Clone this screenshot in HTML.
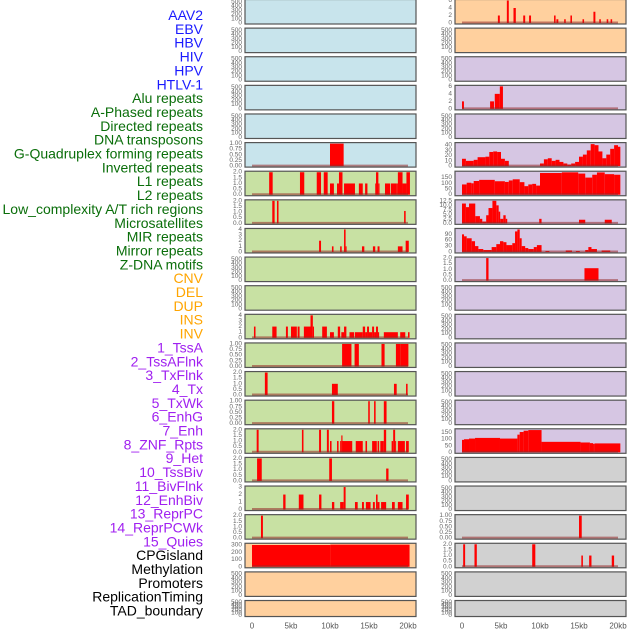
<!DOCTYPE html>
<html><head><meta charset="utf-8"><style>
html,body{margin:0;padding:0;background:#fff;}
svg{display:block;font-family:"Liberation Sans",sans-serif;}
</style></head><body>
<svg id="chart" width="630" height="630" viewBox="0 0 630 630" xmlns="http://www.w3.org/2000/svg"></svg>
<script>
const trackLabels = ["AAV2","EBV","HBV","HIV","HPV","HTLV-1","Alu repeats","A-Phased repeats","Directed repeats","DNA transposons","G-Quadruplex forming repeats","Inverted repeats","L1 repeats","L2 repeats","Low_complexity A/T rich regions","Microsatellites","MIR repeats","Mirror repeats","Z-DNA motifs","CNV","DEL","DUP","INS","INV","1_TssA","2_TssAFlnk","3_TxFlnk","4_Tx","5_TxWk","6_EnhG","7_Enh","8_ZNF_Rpts","9_Het","10_TssBiv","11_BivFlnk","12_EnhBiv","13_ReprPC","14_ReprPCWk","15_Quies","CPGisland","Methylation","Promoters","ReplicationTiming","TAD_boundary"];
const labelGroups = ["v","v","v","v","v","v","r","r","r","r","r","r","r","r","r","r","r","r","r","s","s","s","s","s","c","c","c","c","c","c","c","c","c","c","c","c","c","c","c","k","k","k","k","k"];
const xTickValues = [0,5,10,15,20];
const xTickLabels = ["0","5kb","10kb","15kb","20kb"];

// bars: [startKb, endKb, value]
const gquadBars = [[10.0,11.75,1]];
const l1LeftBars = [[2.2,2.65,2],[6.15,6.7,2],[8.3,8.85,2],[9.2,9.7,2],[10,10.5,1],[10.9,11.15,1],[11.15,11.6,2],[11.8,13.2,1],[13.7,14.2,1],[14.5,14.8,1],[15.8,15.9,1],[15.9,16.2,2],[16.2,16.35,1],[17.05,17.7,1],[17.8,18.55,1],[18.55,18.7,1],[18.7,19.3,2],[19.3,19.8,1],[19.8,20.25,2]];
const row7Bars = [[2.6,2.9,2],[3.2,3.4,2],[19.5,19.7,1.1]];
const row8Bars = [[8.6,8.85,2],[10.25,10.45,1],[11.3,11.5,1],[11.8,12.0,4],[12.0,12.1,1],[14.1,14.4,1],[15.5,15.8,1],[16.1,16.35,1],[18.7,19.3,1],[19.7,20.1,2]];
const row11Bars = [[0.25,0.45,2],[2.6,3.15,2],[4.35,4.6,2],[5.0,5.75,2],[5.85,6.1,2],[6.65,7.5,2],[7.5,7.8,4],[7.8,7.95,2],[9.0,9.6,2],[10.0,10.5,1],[11.0,11.3,2],[11.45,11.8,1],[11.8,12.1,2],[12.5,13.1,1],[13.2,14.2,1],[14.2,14.5,2],[14.5,14.75,1],[14.75,15.0,2],[15.0,15.4,1],[15.4,15.65,2],[15.65,15.9,1],[15.9,16.15,2],[16.15,16.3,1],[16.9,18.7,1],[19.0,19.65,1],[20.0,20.2,1]];
const row12Bars = [[11.55,12.75,1],[13.15,13.7,1],[16.6,17.0,1],[18.45,19.0,1],[19.0,20.05,1]];
const row13Bars = [[1.65,2.0,2],[10.25,11.0,1],[18.2,18.55,1],[19.75,19.95,1]];
const row14Bars = [[10.25,10.55,1],[14.9,15.1,1],[15.65,15.85,1],[16.9,17.25,1]];
const row15Bars = [[0.6,0.85,2],[6.4,6.6,2],[8.6,8.85,2],[9.6,9.85,2],[10.0,10.2,1],[10.9,11.1,1],[11.3,11.45,1],[11.45,11.6,1.5],[11.6,12.85,1],[13.3,14.2,1],[14.55,14.75,1],[15.4,16.0,1],[16.1,16.3,1],[16.45,16.9,1],[16.9,17.2,2],[17.9,18.1,1],[18.1,18.35,2],[18.35,18.45,1],[18.7,19.6,1],[19.75,20.1,1]];
const row16Bars = [[0.65,1.25,2],[9.9,10.25,2],[17.2,17.5,1.1]];
const row17Bars = [[4.0,4.3,2],[6.0,6.6,2],[8.6,8.9,2],[10.25,10.55,1],[11.3,11.75,1],[11.75,12.0,3],[13.2,13.55,1],[14.1,14.35,1],[14.6,15.2,1],[15.5,15.75,1],[15.9,16.1,2],[16.1,16.35,1],[16.55,17.2,1],[17.95,18.3,1],[18.7,19.3,1],[19.75,20.1,2]];
const row18Bars = [[1.15,1.4,2]];
const row19Bars = [[0,10.05,300],[10.05,20.2,305]];

const aavBars = [[4.6,4.85,2],[5.75,6.0,6],[6.6,6.9,4],[7.85,8.1,2],[8.6,8.85,2],[11.8,12.0,2],[12.1,12.35,1],[13.1,13.3,1],[13.9,14.1,2],[15.45,15.65,1],[16.85,17.1,3],[17.6,17.8,1],[18.55,18.75,1],[19.05,19.25,1]];
const aluBars = [[0,0.25,2],[3.6,4.1,2],[4.2,4.85,4],[4.85,5.25,6]];
const gquadRightBars = [[0,0.5,14],[0.5,1.5,10],[1.5,2,12],[2,3,17],[3,3.5,18],[3.5,4,27],[4,4.5,28],[4.5,5,27],[5,5.5,14],[5.5,6,10],[10,10.5,5],[10.5,11,13],[11,11.5,15],[11.5,12,10],[12,12.5,12],[12.5,13,8],[13,13.5,5],[13.5,14,3],[14,14.5,5],[14.5,15,8],[15,15.5,18],[15.5,16,22],[16,16.5,30],[16.5,17,42],[17,17.5,40],[17.5,18,28],[18,18.5,15],[18.5,19,22],[19,19.5,33],[19.5,20,40],[20,20.3,37]];
const l1RightBars = [[0,0.6,90],[0.6,1.2,105],[1.2,1.5,100],[1.5,2.2,120],[2.2,4.2,130],[4.2,5.5,118],[5.5,6,112],[6,6.5,125],[6.5,7.4,135],[7.4,8,110],[8,8.5,75],[8.5,9,90],[9,9.5,95],[9.5,10,80],[10,12.8,190],[12.8,14.9,196],[14.9,15.8,185],[15.8,16.7,150],[16.7,17.3,175],[17.3,18.3,195],[18.3,19.5,180],[19.5,20.3,175]];
const lowComplexBars = [[0,0.5,11],[0.5,0.9,9],[0.9,1.7,11],[1.7,2.3,4],[2.3,2.6,2.5],[2.6,3.1,1],[3.1,3.4,4.5],[3.4,3.9,8.5],[3.9,4.4,12.5],[4.4,4.7,10],[4.7,4.9,6.5],[4.9,5.3,2.5],[5.3,5.6,4.5],[5.6,5.8,2.5],[9.9,10.2,2.5],[15.0,15.8,2],[18.3,19.2,2]];
const mirBars = [[0,0.26,90],[0.26,0.6,80],[0.6,1.24,70],[1.24,1.67,55],[1.67,2.1,30],[2.1,2.73,15],[2.73,3.8,10],[3.8,4.4,25],[4.4,4.87,40],[4.87,5.3,55],[5.3,5.7,50],[5.7,6.45,35],[6.45,6.8,45],[6.8,7.1,105],[7.1,7.4,115],[7.4,7.65,70],[7.65,8.1,30],[8.1,8.5,20],[8.5,9.2,15],[9.2,9.6,25],[9.6,10.2,35],[10.7,11.2,5],[13.3,14.1,8],[14.6,15.1,5],[15.8,16.2,10],[16.2,16.6,25],[16.6,17.3,15],[17.9,19.0,8]];
const zdnaBars = [[3.1,3.4,2],[15.7,17.5,1.1]];
const tssBivBars = [[0,0.26,95],[0.26,0.9,100],[0.9,1.67,105],[1.67,4.87,110],[4.87,7.1,105],[7.1,7.4,135],[7.4,7.9,155],[7.9,8.5,165],[8.5,10.2,170],[10.2,15.2,80],[15.2,16.4,75],[16.4,16.8,70],[16.8,17.0,65],[17.0,20.3,68]];
const rightRow18Bars = [[15.0,15.35,1]];
const rightRow19Bars = [[0.15,0.4,2],[1.6,1.9,2],[9.0,9.4,2],[15.3,15.5,1],[16.3,16.6,1],[19.2,19.5,1]];

const emptyTicks = [0,100,200,300,400,500];
const t1 = [0,0.25,0.5,0.75,1], t2=[0,0.5,1,1.5,2];
const COLORS = {blue:"#c8e4ec", green:"#c8e1a3", orange:"#ffd09e", purple:"#d6c6e3", gray:"#d1d1d1"};

function P(col,bg,bars,ymax,ticks,dec){return {col,bg,bars,ymax,ticks,dec};}
const E = (col,bg)=>P(col,bg,null,530,emptyTicks,0);
const leftPanels = [E(0,"blue"),E(0,"blue"),E(0,"blue"),E(0,"blue"),E(0,"blue"),
 P(0,"blue",gquadBars,1,t1,2),
 P(0,"green",l1LeftBars,2,t2,1), P(0,"green",row7Bars,2,t2,1), P(0,"green",row8Bars,4,[0,1,2,3,4],0),
 E(0,"green"),E(0,"green"),
 P(0,"green",row11Bars,4,[0,1,2,3,4],0), P(0,"green",row12Bars,1,t1,2), P(0,"green",row13Bars,2,t2,1),
 P(0,"green",row14Bars,1,t1,2), P(0,"green",row15Bars,2,t2,1), P(0,"green",row16Bars,2,t2,1),
 P(0,"green",row17Bars,3,[0,1,2,3],0), P(0,"green",row18Bars,2,t2,1), P(0,"orange",row19Bars,310,[0,100,200,300],0),
 E(0,"orange"),E(0,"orange")];
const rightPanels = [P(1,"orange",aavBars,6,[0,2,4,6],0), E(1,"orange"), E(1,"purple"),
 P(1,"purple",aluBars,6,[0,2,4,6],0), E(1,"purple"),
 P(1,"purple",gquadRightBars,43,[0,10,20,30,40],0), P(1,"purple",l1RightBars,197,[0,50,100,150],0),
 P(1,"purple",lowComplexBars,12.5,[0,2.5,5,7.5,10,12.5],1), P(1,"purple",mirBars,115,[0,30,60,90],0),
 P(1,"purple",zdnaBars,2,t2,1), E(1,"purple"),E(1,"purple"),E(1,"purple"),E(1,"purple"),E(1,"purple"),
 P(1,"purple",tssBivBars,172,[0,50,100,150],0), E(1,"gray"),E(1,"gray"),
 P(1,"gray",rightRow18Bars,1,t1,2), P(1,"gray",rightRow19Bars,2,t2,1), E(1,"gray"),E(1,"gray")];

const svg = document.getElementById('chart');
const NS = "http://www.w3.org/2000/svg";
function mk(tag, attrs, parent){const e=document.createElementNS(NS,tag);for(const k in attrs)e.setAttribute(k,attrs[k]);(parent||svg).appendChild(e);return e;}

const labelColor = {v:"#1a1aff", r:"#0a6e0a", s:"#ffa500", c:"#a020f0", k:"#000"};
trackLabels.forEach((t,i)=>{
  const e = mk('text',{x:203,y:15+13.85*i,'text-anchor':'end','dominant-baseline':'central','font-size':14,fill:labelColor[labelGroups[i]]});
  e.textContent = t;
  
  
});

function xScale(col, kb){ return (col===0?252:462) + kb*7.8; }

function drawPanel(p, i){
  const px = p.col===0?245:455, pw = 171;
  const top = 28.62*i - 0.5, h = (i===21?16:24.5), bottom = top+h;
  const g = mk('g',{});
  
  
  const bg = mk('rect',{x:px,y:top,width:pw,height:h,fill:COLORS[p.bg],stroke:"none"},g);
  
  
  const yS = v => bottom - 1 - v/p.ymax*(h-2);
  if (p.bars){
    p.bars.forEach(b=>{
      const x0=xScale(p.col,b[0]), x1=xScale(p.col,b[1]);
      const r = mk('rect',{x:x0,y:yS(b[2]),width:Math.max(x1-x0,1),height:bottom-1-yS(b[2]),fill:"#ff0000"},g);
      
      
    });
    const bl = mk('line',{x1:xScale(p.col,0),x2:xScale(p.col,20),y1:bottom-1.5,y2:bottom-1.5,stroke:"rgba(150,40,40,0.55)","stroke-width":2},g);
    
    
  }
  p.ticks.forEach(t=>{
    const tx = mk('text',{x:px-3,y:yS(t),'text-anchor':'end','dominant-baseline':'central','font-size':6.5,fill:"#666"},g);
    tx.textContent = p.dec? t.toFixed(p.dec) : String(t);
    
    
  });
  const br = mk('rect',{x:px,y:top,width:pw,height:h,fill:"none",stroke:"#555","stroke-width":1.2},g);
  
  
}
leftPanels.forEach((p,i)=>drawPanel(p,i));
rightPanels.forEach((p,i)=>drawPanel(p,i));

[0,1].forEach(col=>{
  xTickValues.forEach((v,j)=>{
    const t = mk('text',{x:xScale(col,v),y:626,'text-anchor':'middle','dominant-baseline':'central','font-size':8,fill:"#555"});
    t.textContent = xTickLabels[j];
    
    
  });
});
</script>
</body></html>
